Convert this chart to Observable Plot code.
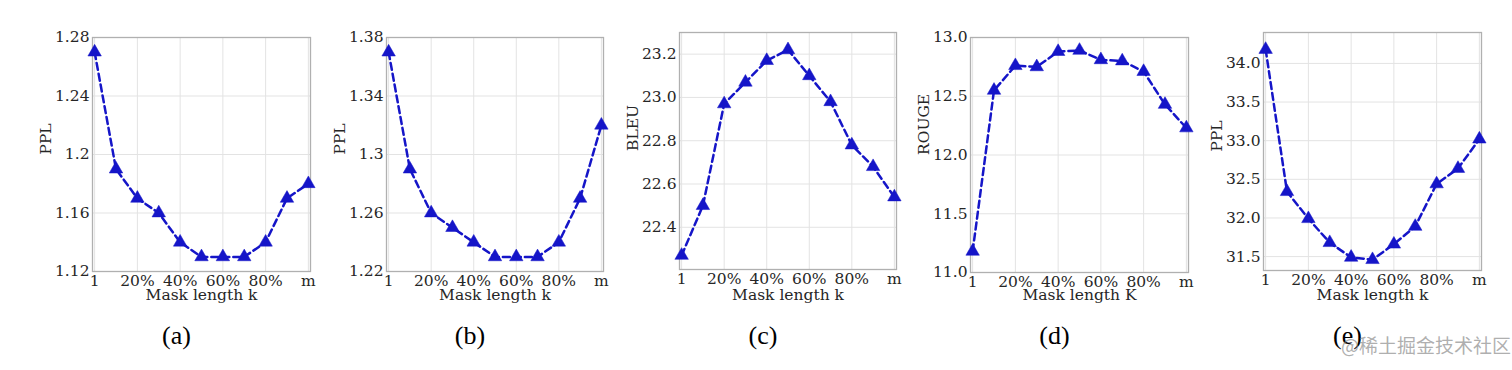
<!DOCTYPE html>
<html>
<head>
<meta charset="utf-8">
<script src="https://cdn.jsdelivr.net/npm/d3@7"></script>
<script src="https://cdn.jsdelivr.net/npm/@observablehq/plot@0.6"></script>
<style>
  html, body { margin: 0; padding: 0; background: #fff; }
  #wrap { position: relative; width: 1512px; height: 370px; overflow: hidden; background: #fff; }
  #wrap svg { position: absolute; overflow: visible; }
  #wm { position: absolute; left: 1341px; top: 333px; font-family: "Noto Sans CJK SC", sans-serif; font-size: 19px; color: rgba(140,140,140,0.7); white-space: nowrap; line-height: 24px; }
</style>
</head>
<body>
<div id="wrap"></div>
<script>
// ---- data ----
const steps = [0, 1, 2, 3, 4, 5, 6, 7, 8, 9, 10];
const xTickIdx = [0, 2, 4, 6, 8, 10];
const xLabels = ["1", "20%", "40%", "60%", "80%", "m"];

const pplA = [1.27, 1.19, 1.17, 1.16, 1.14, 1.13, 1.13, 1.13, 1.14, 1.17, 1.18];
const pplB = [1.37, 1.29, 1.26, 1.25, 1.24, 1.23, 1.23, 1.23, 1.24, 1.27, 1.32];
const bleuC = [22.27, 22.50, 22.97, 23.07, 23.17, 23.22, 23.10, 22.98, 22.78, 22.68, 22.54];
const rougeD = [11.18, 12.55, 12.76, 12.75, 12.88, 12.89, 12.81, 12.80, 12.71, 12.43, 12.23];
const pplE = [34.18, 32.34, 31.99, 31.68, 31.49, 31.46, 31.66, 31.89, 32.44, 32.64, 33.02];

const ticksA = [1.12, 1.16, 1.2, 1.24, 1.28];
const ticksB = [1.22, 1.26, 1.3, 1.34, 1.38];
const ticksC = [22.4, 22.6, 22.8, 23.0, 23.2];
const ticksD = [11.0, 11.5, 12.0, 12.5, 13.0];
const ticksE = [31.5, 32.0, 32.5, 33.0, 33.5, 34.0];

const yTitles = ["PPL", "PPL", "BLEU", "ROUGE", "PPL"];
const xTitles = ["Mask length k", "Mask length k", "Mask length k", "Mask length K", "Mask length k"];
const captions = ["(a)", "(b)", "(c)", "(d)", "(e)"];
const watermark = "@稀土掘金技术社区";

// ---- layout (frame boxes in page px) ----
const panels = [
  {values: pplA,   ticks: ticksA, domain: [1.12, 1.28],    fmt: d => String(d),   L: 92,  R: 310, T: 37, B: 271},
  {values: pplB,   ticks: ticksB, domain: [1.22, 1.38],    fmt: d => String(d),   L: 386, R: 603, T: 37, B: 271},
  {values: bleuC,  ticks: ticksC, domain: [22.205, 23.30], fmt: d3.format(".1f"), L: 679, R: 896, T: 32, B: 269},
  {values: rougeD, ticks: ticksD, domain: [11.0, 13.0],    fmt: d3.format(".1f"), L: 970, R: 1188, T: 37, B: 272},
  {values: pplE,   ticks: ticksE, domain: [31.32, 34.40],  fmt: d3.format(".1f"), L: 1263, R: 1481, T: 32, B: 270}
];

const blue = "#1515c8";
const ink = "#262626";
const serif = "DejaVu Serif";
const mL = 70, mR = 12, mT = 10, mB = 95;
const wrap = document.getElementById("wrap");

panels.forEach((p, i) => {
  const data = steps.map((s, j) => ({x: s, y: p.values[j]}));
  const fw = p.R - p.L, fh = p.B - p.T;
  const chart = Plot.plot({
    width: fw + mL + mR,
    height: fh + mT + mB,
    marginLeft: mL, marginRight: mR, marginTop: mT, marginBottom: mB,
    style: {fontFamily: serif, fontSize: "15px", color: ink, background: "transparent"},
    x: {domain: [-0.1, 10.1]},
    y: {domain: p.domain},
    marks: [
      Plot.gridX(xTickIdx, {stroke: "#e3e3e3", strokeOpacity: 1}),
      Plot.gridY(p.ticks, {stroke: "#e3e3e3", strokeOpacity: 1}),
      Plot.frame({stroke: "#b0b0b0", strokeWidth: 1.3}),
      Plot.axisX(xTickIdx, {tickSize: 0, tickPadding: 3, tickFormat: d => xLabels[xTickIdx.indexOf(d)], label: null, fontSize: 15.5, fontFamily: serif, fill: ink}),
      Plot.axisY(p.ticks, {tickSize: 0, tickPadding: 3, tickFormat: p.fmt, label: null, fontSize: 15.5, fontFamily: serif, fill: ink}),
      Plot.text([yTitles[i]], {frameAnchor: "left", dx: -46, rotate: -90, fontSize: 15.5, fontFamily: serif, fill: ink}),
      Plot.text([xTitles[i]], {frameAnchor: "bottom", dy: 299 - p.B, fontSize: 15.5, fontFamily: serif, fill: ink}),
      Plot.text([captions[i]], {frameAnchor: "bottom", dx: -25, dy: 343 - p.B, fontSize: 26, fontFamily: "Liberation Serif", fill: "#000"}),
      Plot.line(data, {x: "x", y: "y", stroke: blue, strokeWidth: 2.5, strokeDasharray: "7,4"}),
      Plot.dot(data, {x: "x", y: "y", symbol: "triangle", r: 5, fill: blue, stroke: blue, strokeWidth: 0.5})
    ]
  });
  chart.style.left = (p.L - mL) + "px";
  chart.style.top = (p.T - mT) + "px";
  wrap.appendChild(chart);
});

const wm = document.createElement("div");
wm.id = "wm";
wm.textContent = watermark;
wrap.appendChild(wm);
</script>
</body>
</html>
